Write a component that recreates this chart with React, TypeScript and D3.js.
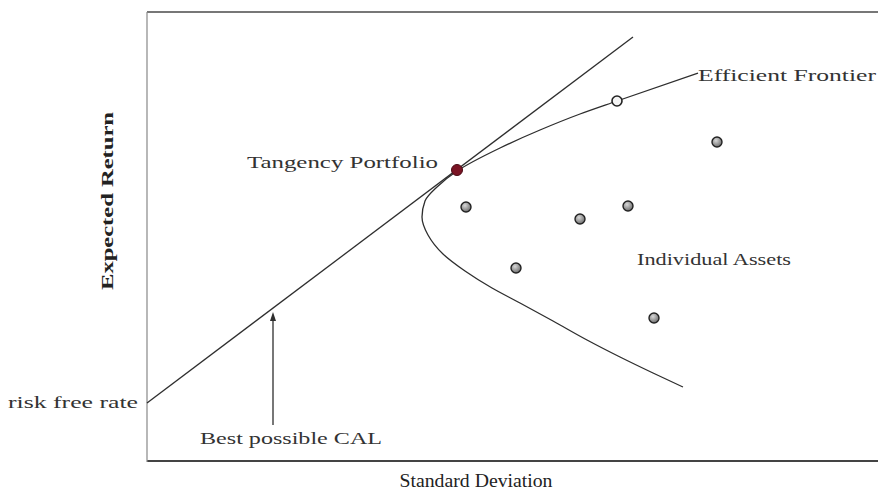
import React from 'react';
import * as d3 from 'd3';

// data units: standard deviation (x) vs expected return (y)
const riskFreeRate = 5.9;
const calEnd = { sd: 48.6, ret: 42.5 };
const tangency = { sd: 31.0, ret: 29.2 };
const frontierMarker = { sd: 47.0, ret: 36.1 };

const frontierSd = [55.1, 47.0, 43.3, 39.3, 35.3, 31.0, 29.0, 27.8, 27.5, 28.1, 29.6, 31.8, 34.5, 37.3, 40.6, 44.0, 47.3, 50.6, 53.6];
const frontierRet = [38.9, 36.1, 34.8, 33.2, 31.4, 29.1, 27.5, 26.1, 24.5, 22.7, 20.8, 19.1, 17.4, 15.9, 14.1, 12.2, 10.5, 8.9, 7.5];

const assetSd = [57.0, 31.9, 43.3, 48.1, 36.9, 50.7];
const assetRet = [32.0, 25.5, 24.3, 25.6, 19.4, 14.4];

// annotation arrow under the CAL
const arrowSd = 12.6;
const arrowFrom = 3.7;
const arrowTo = 15.0;

const labels = [
  { text: 'Tangency Portfolio', sd: 10.0, ret: 29.4, len: 191 },
  { text: 'Efficient Frontier', sd: 55.1, ret: 38.1, len: 178 },
  { text: 'Individual Assets', sd: 49.0, ret: 19.7, len: 154 },
  { text: 'Best possible CAL', sd: 5.3, ret: 1.8, len: 182 },
];

const width = 878;
const height = 493;

const App = () => {
  const x = d3.scaleLinear().domain([0, 73]).range([147, 877]);
  const y = d3.scaleLinear().domain([0, 45]).range([462, 12]);

  const frontier = frontierSd.map((s, i) => [s, frontierRet[i]] as [number, number]);

  const calPath = d3.line<[number, number]>()
    .x(d => x(d[0]))
    .y(d => y(d[1]))([[0, riskFreeRate], [calEnd.sd, calEnd.ret]]);
  const frontierPath = d3.line<[number, number]>()
    .x(d => x(d[0]))
    .y(d => y(d[1]))
    .curve(d3.curveMonotoneY)(frontier);

  const ink = '#2e2e2e';
  const font = '"Liberation Serif", "DejaVu Serif", serif';
  const ax = x(arrowSd);

  return (
    <svg width={width} height={height} style={{ position: 'absolute', left: 0, top: 0, background: '#fff' }}>
      <defs>
        <radialGradient id="ball" cx="40%" cy="35%" r="65%">
          <stop offset="0%" stopColor="#d8d8d8" />
          <stop offset="100%" stopColor="#6e6e6e" />
        </radialGradient>
      </defs>

      {/* frame */}
      <line x1={x(0)} x2={width} y1={y(45)} y2={y(45)} stroke="#777" strokeWidth={2} />
      <line x1={x(0)} x2={width} y1={y(0) - 1} y2={y(0) - 1} stroke="#444" strokeWidth={2} />
      <line x1={x(0)} x2={x(0)} y1={y(45)} y2={y(0)} stroke="#888" strokeWidth={1.2} />

      {/* capital allocation line */}
      <path d={calPath ?? ''} fill="none" stroke={ink} strokeWidth={1.3} />

      {/* efficient frontier */}
      <path d={frontierPath ?? ''} fill="none" stroke={ink} strokeWidth={1.3} />

      {/* arrow */}
      <line x1={ax} x2={ax} y1={y(arrowFrom)} y2={y(arrowTo) + 6} stroke={ink} strokeWidth={1.3} />
      <path d={`M${ax},${y(arrowTo)} L${ax - 3},${y(arrowTo) + 9} L${ax + 3},${y(arrowTo) + 9} Z`} fill={ink} />

      {/* assets */}
      {assetSd.map((s, i) => (
        <circle key={i} cx={x(s)} cy={y(assetRet[i])} r={5} fill="url(#ball)" stroke="#222" strokeWidth={1.4} />
      ))}
      <circle cx={x(frontierMarker.sd)} cy={y(frontierMarker.ret)} r={5} fill="#f4f4f4" stroke="#222" strokeWidth={1.6} />
      <circle cx={x(tangency.sd)} cy={y(tangency.ret)} r={5.5} fill="#7a1424" stroke="#4a0a14" strokeWidth={1} />

      {/* labels */}
      {labels.map(l => (
        <text key={l.text} x={x(l.sd)} y={y(l.ret)} fontFamily={font} fontSize={17} fill="#333"
          textLength={l.len} lengthAdjust="spacingAndGlyphs">{l.text}</text>
      ))}
      <text x={8} y={y(riskFreeRate) + 5} fontFamily={font} fontSize={16} fill="#333"
        textLength={130} lengthAdjust="spacingAndGlyphs">risk free rate</text>

      <text x={476} y={487} textAnchor="middle" fontFamily={font} fontSize={19} fill="#222"
        textLength={153} lengthAdjust="spacingAndGlyphs">Standard Deviation</text>
      <text transform="translate(113,201) rotate(-90)" textAnchor="middle" fontFamily={font} fontSize={16}
        fontWeight="bold" fill="#222" textLength={178} lengthAdjust="spacingAndGlyphs">Expected Return</text>
    </svg>
  );
};

export default App;
